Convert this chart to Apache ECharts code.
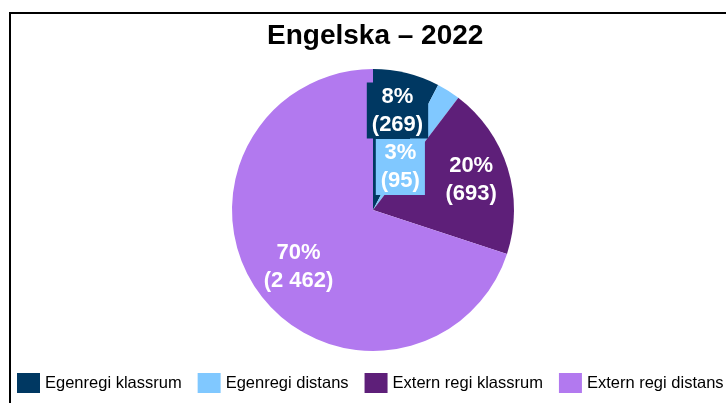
<!DOCTYPE html>
<html>
<head>
<meta charset="utf-8">
<script src="https://cdn.jsdelivr.net/npm/echarts@6/dist/echarts.min.js"></script>
<style>
html,body{margin:0;padding:0;background:#fff;}
#chart{width:726px;height:403px;}
</style>
</head>
<body>
<div id="chart"></div>
<script>
const titleText = 'Engelska – 2022';
const categories = ['Egenregi klassrum', 'Egenregi distans', 'Extern regi klassrum', 'Extern regi distans'];
const counts = [269, 95, 693, 2462];
const percentLabels = ['8%', '3%', '20%', '70%'];
const countLabels = ['269', '95', '693', '2 462'];
const colors = ['#003862', '#80C8FF', '#5E1F79', '#B279EF'];
const labelBoxes = [true, true, false, false];
const labelOffsets = [[7, -28], [-12, 19], [28, -8], [-15, 14]];

const chart = echarts.init(document.getElementById('chart'), null, {renderer: 'canvas'});
const data = categories.map((name, i) => ({
  name: name,
  value: counts[i],
  itemStyle: {color: colors[i]},
  label: {
    offset: labelOffsets[i],
    backgroundColor: labelBoxes[i] ? colors[i] : 'transparent',
    formatter: percentLabels[i] + '\n(' + countLabels[i] + ')'
  }
}));

chart.setOption({
  animation: false,
  backgroundColor: '#fff',
  title: {
    text: titleText,
    left: 262,
    top: 17,
    textStyle: {fontFamily: 'Liberation Sans, Arial', fontWeight: 'bold', fontSize: 28, color: '#000'}
  },
  graphic: [{
    type: 'rect',
    shape: {x: 10, y: 13, width: 760, height: 420},
    style: {fill: 'none', stroke: '#000', lineWidth: 2},
    silent: true,
    z: -1
  }],
  legend: {
    left: 12,
    top: 368,
    width: 1200,
    itemWidth: 23,
    itemHeight: 20,
    itemGap: 16,
    icon: 'rect',
    textStyle: {fontFamily: 'Liberation Sans, Arial', fontSize: 16.5, color: '#000'},
    data: categories
  },
  series: [{
    type: 'pie',
    center: [373, 210],
    radius: [0, 141],
    startAngle: 90,
    clockwise: true,
    avoidLabelOverlap: false,
    minShowLabelAngle: 0,
    labelLayout: {hideOverlap: false},
    label: {
      show: true,
      position: 'inside',
      color: '#fff',
      fontFamily: 'Liberation Sans, Arial',
      fontWeight: 'bold',
      fontSize: 22,
      lineHeight: 28,
      align: 'center',
      padding: [0, 5]
    },
    labelLine: {show: false},
    itemStyle: {borderWidth: 0},
    emphasis: {disabled: true},
    data: data
  }]
});
</script>
</body>
</html>
